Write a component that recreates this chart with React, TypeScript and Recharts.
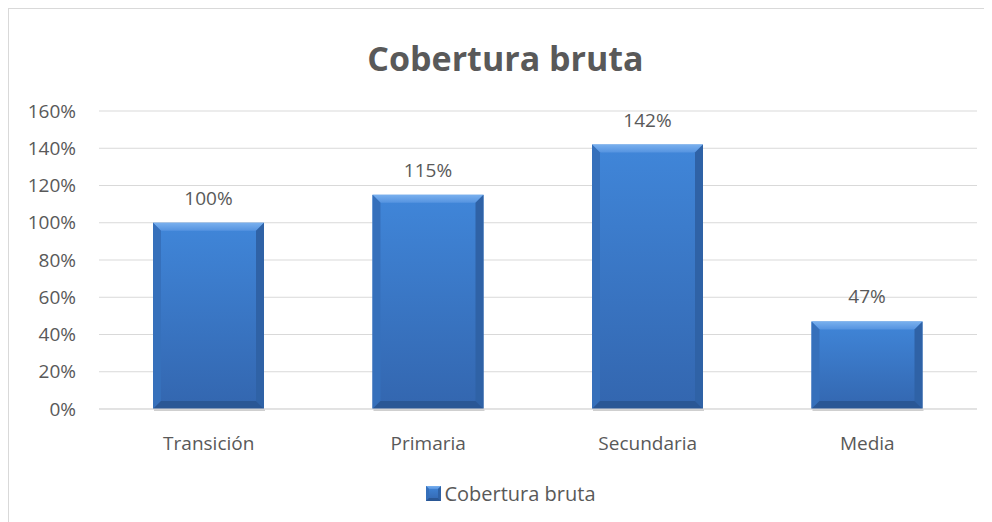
// Cobertura bruta — single-series column chart with Excel-style bevelled bars.
import { Bar, BarChart, CartesianGrid, LabelList, Legend, XAxis, YAxis } from "recharts";

const CATEGORIES = ["Transición", "Primaria", "Secundaria", "Media"];
const COBERTURA = [100, 115, 142, 47];
const Y_TICKS = [0, 20, 40, 60, 80, 100, 120, 140, 160];
const SERIES_NAME = "Cobertura bruta";
const TITLE = "Cobertura bruta";

const TEXT = "#595959";
const GRID = "#d9d9d9";
const FONT = "'Open Sans', sans-serif";

const rows = CATEGORIES.map((name, i) => ({ name, value: COBERTURA[i] }));

function BevelBar(props: { x?: number; y?: number; width?: number; height?: number; small?: boolean }) {
  const { x = 0, y = 0, width = 0, height = 0, small } = props;
  if (height <= 0) return null;
  const b = Math.min(small ? 3 : 8, width / 4, height / 4);
  const r = x + width;
  const btm = y + height;
  return (
    <g>
      {!small && <rect x={x + 1} y={btm} width={width} height={2} fill="#cfcfcf" />}
      <rect x={x} y={y} width={width} height={height} fill="url(#barBody)" />
      <polygon points={`${x},${y} ${r},${y} ${r - b},${y + b} ${x + b},${y + b}`} fill="url(#barTop)" />
      <polygon points={`${x},${y} ${x + b},${y + b} ${x + b},${btm - b} ${x},${btm}`} fill="#3670bb" />
      <polygon points={`${r},${y} ${r},${btm} ${r - b},${btm - b} ${r - b},${y + b}`} fill="#2f62a6" />
      <polygon points={`${x},${btm} ${x + b},${btm - b} ${r - b},${btm - b} ${r},${btm}`} fill="#2a5795" />
    </g>
  );
}

function Gradients() {
  return (
    <defs>
      <linearGradient id="barBody" x1="0" y1="0" x2="0" y2="1">
        <stop offset="0%" stopColor="#4086d9" />
        <stop offset="100%" stopColor="#3366af" />
      </linearGradient>
      <linearGradient id="barTop" x1="0" y1="0" x2="0" y2="1">
        <stop offset="0%" stopColor="#79b0ee" />
        <stop offset="100%" stopColor="#5593e0" />
      </linearGradient>
    </defs>
  );
}

function LegendContent() {
  return (
    <div style={{ display: "flex", justifyContent: "center", alignItems: "center", height: 30, paddingLeft: 36, fontFamily: FONT, fontSize: 20, color: TEXT }}>
      <svg width={15} height={15} style={{ marginRight: 3 }}>
        <Gradients />
        <BevelBar x={0} y={0} width={15} height={15} small />
      </svg>
      <span>{SERIES_NAME}</span>
    </div>
  );
}

export default function App() {
  return (
    <div style={{ position: "relative", width: 983, height: 513, borderTop: `1px solid ${GRID}`, borderLeft: `1px solid ${GRID}`, background: "#fff" }}>
      <style>{`html,body{overflow:hidden}`}</style>
      <div style={{ position: "absolute", top: 26, left: 0, width: 993, textAlign: "center", fontFamily: FONT, fontWeight: 700, fontSize: 34, color: TEXT }}>
        {TITLE}
      </div>
      <BarChart width={983} height={513} data={rows} margin={{ top: 102, right: 15, left: 0, bottom: 14 }}>
        <Gradients />
        <CartesianGrid vertical={false} stroke={GRID} />
        <XAxis
          dataKey="name"
          height={69}
          tickLine={false}
          axisLine={{ stroke: GRID }}
          tickMargin={22}
          tick={{ fill: TEXT, fontSize: 19, fontFamily: FONT }}
        />
        <YAxis
          width={90}
          domain={[0, 160]}
          ticks={Y_TICKS}
          tickFormatter={(v: number) => `${v}%`}
          tickLine={false}
          axisLine={false}
          tickMargin={17}
          tick={{ fill: TEXT, fontSize: 19, fontFamily: FONT }}
        />
        <Legend verticalAlign="bottom" height={30} content={<LegendContent />} />
        <Bar dataKey="value" name={SERIES_NAME} barSize={111} shape={<BevelBar />} isAnimationActive={false}>
          <LabelList
            dataKey="value"
            position="top"
            offset={18}
            formatter={(v: number) => `${v}%`}
            style={{ fill: TEXT, fontSize: 19, fontFamily: FONT }}
          />
        </Bar>
      </BarChart>
    </div>
  );
}
